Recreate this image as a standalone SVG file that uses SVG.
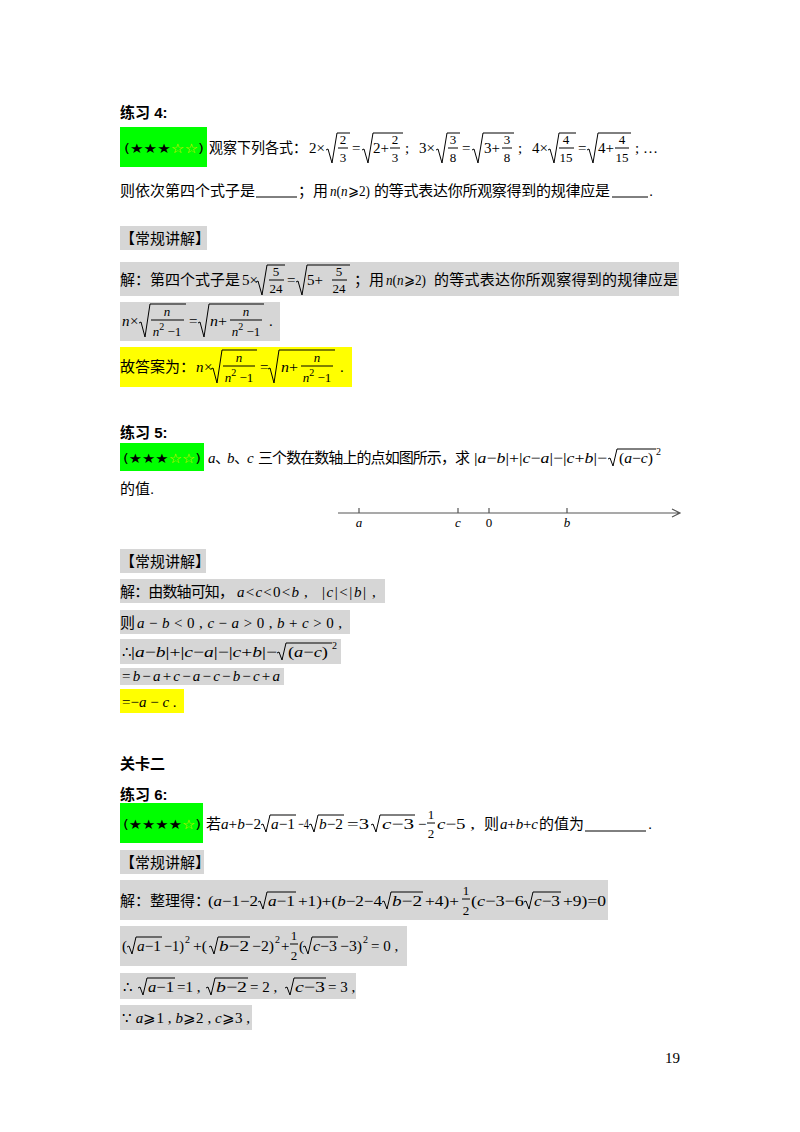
<svg xmlns="http://www.w3.org/2000/svg" width="800" height="1132" viewBox="0 0 800 1132">
<style>
.cn{font-family:"Liberation Sans","Noto Sans CJK SC",sans-serif;font-size:15px;fill:#000}
.b{font-weight:bold}
.m{font-family:"Liberation Serif","DejaVu Serif",serif;font-size:15px;fill:#000}
.i{font-style:italic}
.s{font-size:13px}
.t{font-size:10px}
.r{fill:none;stroke:#000;stroke-width:1}
.g{fill:#d6d6d6}
.gr{fill:#00ff00}
.y{fill:#ffff00}
.st{font-family:"DejaVu Sans","Noto Sans CJK SC",sans-serif;font-size:13px}
.h{fill:#e6e600}
</style>
<rect width="800" height="1132" fill="#fff"/>

<g id="ex4">
<text class="cn b" x="120" y="118">练习 4:</text>
<rect class="gr" x="120" y="127" width="87" height="40"/>
<text class="st" x="124" y="153" textLength="80" lengthAdjust="spacingAndGlyphs">(★★★<tspan class="h">☆☆</tspan>)</text>
<text class="cn" x="209" y="153" textLength="98" lengthAdjust="spacingAndGlyphs">观察下列各式：</text>
<g class="m">
<text x="309" y="153">2×</text>
<path class="r" d="M326,150 l2,-1 l4,14 l5,-30 H350"/>
<text class="s" x="343" y="144" text-anchor="middle">2</text><path class="r" d="M338,148 H348"/><text class="s" x="343" y="162" text-anchor="middle">3</text>
<text x="352" y="153">=</text>
<path class="r" d="M362,150 l2,-1 l4,14 l5,-30 H403"/>
<text x="373" y="153" textLength="16" lengthAdjust="spacingAndGlyphs">2+</text>
<text class="s" x="395" y="144" text-anchor="middle">2</text><path class="r" d="M390,148 H400"/><text class="s" x="395" y="162" text-anchor="middle">3</text>
<text x="405" y="153">;</text>
<text x="419" y="153">3×</text>
<path class="r" d="M436,150 l2,-1 l4,14 l5,-30 H460"/>
<text class="s" x="453" y="144" text-anchor="middle">3</text><path class="r" d="M448,148 H458"/><text class="s" x="453" y="162" text-anchor="middle">8</text>
<text x="462" y="153">=</text>
<path class="r" d="M472,150 l2,-1 l4,14 l5,-30 H514"/>
<text x="484" y="153" textLength="16" lengthAdjust="spacingAndGlyphs">3+</text>
<text class="s" x="507" y="144" text-anchor="middle">3</text><path class="r" d="M502,148 H512"/><text class="s" x="507" y="162" text-anchor="middle">8</text>
<text x="518" y="153">;</text>
<text x="532" y="153">4×</text>
<path class="r" d="M548,150 l2,-1 l4,14 l5,-30 H576"/>
<text class="s" x="566" y="144" text-anchor="middle">4</text><path class="r" d="M559,148 H574"/><text class="s" x="566" y="162" text-anchor="middle">15</text>
<text x="578" y="153">=</text>
<path class="r" d="M587,150 l2,-1 l4,14 l5,-30 H631"/>
<text x="598" y="153" textLength="16" lengthAdjust="spacingAndGlyphs">4+</text>
<text class="s" x="622" y="144" text-anchor="middle">4</text><path class="r" d="M615,148 H629"/><text class="s" x="622" y="162" text-anchor="middle">15</text>
<text x="635" y="153">;  …</text>
</g>
<text class="cn" x="120" y="196">则依次第四个式子是</text>
<path class="r" d="M256,197 H297" stroke-width="0.8"/>
<text class="cn" x="298" y="196">；用</text>
<text class="m" x="330" y="196" textLength="40" lengthAdjust="spacingAndGlyphs"><tspan class="i">n</tspan>(<tspan class="i">n</tspan>⩾2)</text>
<text class="cn" x="374" y="196" textLength="236" lengthAdjust="spacing">的等式表达你所观察得到的规律应是</text>
<path class="r" d="M612,197 H648" stroke-width="0.8"/>
<text class="cn" x="649" y="196">.</text>
</g>

<g id="sol4">
<rect class="g" x="120" y="226" width="87" height="24"/>
<text class="cn" x="120" y="244">【常规讲解】</text>
<rect class="g" x="120" y="262" width="559" height="34"/>
<text class="cn" x="120" y="285">解：第四个式子是</text>
<g class="m">
<text x="242" y="285">5×</text>
<path class="r" d="M256,282 l2,-1 l4,14 l5,-30 H285"/>
<text class="s" x="276" y="276" text-anchor="middle">5</text><path class="r" d="M269,280 H284"/><text class="s" x="276" y="293" text-anchor="middle">24</text>
<text x="287" y="285">=</text>
<path class="r" d="M296,282 l2,-1 l4,14 l5,-30 H350"/>
<text x="307" y="285" textLength="16" lengthAdjust="spacingAndGlyphs">5+</text>
<text class="s" x="339" y="276" text-anchor="middle">5</text><path class="r" d="M332,280 H347"/><text class="s" x="339" y="293" text-anchor="middle">24</text>
</g>
<text class="cn" x="354" y="285">；用</text>
<text class="m" x="386" y="285" textLength="40" lengthAdjust="spacingAndGlyphs"><tspan class="i">n</tspan>(<tspan class="i">n</tspan>⩾2)</text>
<text class="cn" x="434" y="285" textLength="244" lengthAdjust="spacing">的等式表达你所观察得到的规律应是</text>

<rect class="g" x="120" y="302" width="160" height="39"/>
<g class="m">
<text class="i" x="122" y="326">n</text><text x="130" y="326">×</text>
<path class="r" d="M139,323 l2,-1 l4,15 l5,-33 H186"/>
<text class="s i" x="167" y="316" text-anchor="middle">n</text><path class="r" d="M151,320 H184"/>
<text class="s" x="167" y="336" text-anchor="middle"><tspan class="i">n</tspan><tspan class="t" dy="-6">2</tspan><tspan dy="6"> −1</tspan></text>
<text x="189" y="326">=</text>
<path class="r" d="M198,323 l2,-1 l4,15 l5,-33 H264"/>
<text x="210" y="326" textLength="17" lengthAdjust="spacingAndGlyphs"><tspan class="i">n</tspan>+</text>
<text class="s i" x="246" y="316" text-anchor="middle">n</text><path class="r" d="M230,320 H262"/>
<text class="s" x="246" y="336" text-anchor="middle"><tspan class="i">n</tspan><tspan class="t" dy="-6">2</tspan><tspan dy="6"> −1</tspan></text>
<text x="269" y="326">.</text>
</g>

<rect class="y" x="120" y="347" width="232" height="40"/>
<text class="cn" x="120" y="372">故答案为：</text>
<g class="m">
<text class="i" x="196" y="372">n</text><text x="204" y="372">×</text>
<path class="r" d="M211,369 l2,-1 l4,15 l5,-33 H257"/>
<text class="s i" x="239" y="362" text-anchor="middle">n</text><path class="r" d="M223,366 H255"/>
<text class="s" x="239" y="382" text-anchor="middle"><tspan class="i">n</tspan><tspan class="t" dy="-6">2</tspan><tspan dy="6"> −1</tspan></text>
<text x="260" y="372">=</text>
<path class="r" d="M268,369 l2,-1 l4,15 l5,-33 H335"/>
<text x="281" y="372" textLength="17" lengthAdjust="spacingAndGlyphs"><tspan class="i">n</tspan>+</text>
<text class="s i" x="317" y="362" text-anchor="middle">n</text><path class="r" d="M301,366 H333"/>
<text class="s" x="317" y="382" text-anchor="middle"><tspan class="i">n</tspan><tspan class="t" dy="-6">2</tspan><tspan dy="6"> −1</tspan></text>
<text x="340" y="372">.</text>
</g>
</g>

<g id="ex5">
<text class="cn b" x="120" y="438">练习 5:</text>
<rect class="gr" x="120" y="443" width="84" height="28"/>
<text class="st" x="123" y="463" textLength="78" lengthAdjust="spacingAndGlyphs">(★★★<tspan class="h">☆☆</tspan>)</text>
<text class="m i" x="208" y="463">a</text><text class="cn" x="215" y="463">、</text>
<text class="m i" x="227" y="463">b</text><text class="cn" x="234" y="463">、</text>
<text class="m i" x="247" y="463">c</text>
<text class="cn" x="258" y="463" textLength="212" lengthAdjust="spacing">三个数在数轴上的点如图所示，求</text>
<text class="m" x="474" y="463" textLength="133" lengthAdjust="spacingAndGlyphs">|<tspan class="i">a</tspan>−<tspan class="i">b</tspan>|+|<tspan class="i">c</tspan>−<tspan class="i">a</tspan>|−|<tspan class="i">c</tspan>+<tspan class="i">b</tspan>|−</text>
<path class="r" d="M608,459 l2,-1 l3,8 l4,-17 H656"/>
<text class="m" x="619" y="463" textLength="34" lengthAdjust="spacingAndGlyphs">(<tspan class="i">a</tspan>−<tspan class="i">c</tspan>)</text>
<text class="m t" x="656" y="455">2</text>
<text class="cn" x="120" y="494">的值.</text>
<g id="axis">
<path d="M338,513 H680 M672,509 L680,513 L672,517 M359,513 v-5 M458,513 v-5 M489,513 v-5 M567,513 v-5" fill="none" stroke="#555" stroke-width="1.2"/>
<text class="m i s" x="359" y="527" text-anchor="middle" fill="#444">a</text>
<text class="m i s" x="458" y="527" text-anchor="middle" fill="#444">c</text>
<text class="m s" x="489" y="527" text-anchor="middle" fill="#444">0</text>
<text class="m i s" x="567" y="527" text-anchor="middle" fill="#444">b</text>
</g>
</g>

<g id="sol5">
<rect class="g" x="120" y="549" width="86" height="24"/>
<text class="cn" x="120" y="567">【常规讲解】</text>
<rect class="g" x="120" y="579" width="265" height="24"/>
<text class="cn" x="120" y="597" textLength="114" lengthAdjust="spacing">解：由数轴可知，</text>
<text class="m" x="237" y="597" textLength="62" lengthAdjust="spacing"><tspan class="i">a</tspan> &lt; <tspan class="i">c</tspan> &lt; 0 &lt; <tspan class="i">b</tspan></text>
<text class="m" x="304" y="597">,</text>
<text class="m" x="322" y="597" font-size="17" textLength="44" lengthAdjust="spacing">|<tspan class="i">c</tspan>|&lt;|<tspan class="i">b</tspan>|</text>
<text class="m" x="372" y="597">,</text>
<rect class="g" x="120" y="610" width="230" height="24"/>
<text class="cn" x="120" y="628">则</text>
<text class="m" x="137" y="628" textLength="205" lengthAdjust="spacing"><tspan class="i">a</tspan> − <tspan class="i">b</tspan> &lt; 0 ,  <tspan class="i">c</tspan> − <tspan class="i">a</tspan> &gt; 0 ,  <tspan class="i">b</tspan> + <tspan class="i">c</tspan> &gt; 0 ,</text>
<rect class="g" x="120" y="639" width="221" height="25"/>
<text class="m" x="122" y="657">∴</text>
<text class="m" x="131" y="657" textLength="146" lengthAdjust="spacingAndGlyphs">|<tspan class="i">a</tspan>−<tspan class="i">b</tspan>|+|<tspan class="i">c</tspan>−<tspan class="i">a</tspan>|−|<tspan class="i">c</tspan>+<tspan class="i">b</tspan>|−</text>
<path class="r" d="M277,653 l2,-1 l3,8 l4,-17 H332"/>
<text class="m" x="288" y="657" textLength="40" lengthAdjust="spacingAndGlyphs">(<tspan class="i">a</tspan>−<tspan class="i">c</tspan>)</text>
<text class="m t" x="332" y="649">2</text>
<rect class="g" x="120" y="668" width="164" height="17"/>
<text class="m" x="122" y="681" textLength="158" lengthAdjust="spacing">= <tspan class="i">b</tspan> − <tspan class="i">a</tspan> + <tspan class="i">c</tspan> − <tspan class="i">a</tspan> − <tspan class="i">c</tspan> − <tspan class="i">b</tspan> − <tspan class="i">c</tspan> + <tspan class="i">a</tspan></text>
<rect class="y" x="120" y="689" width="64" height="24"/>
<text class="m" x="122" y="707" font-size="16">=−<tspan class="i">a</tspan> − <tspan class="i">c</tspan> .</text>
</g>

<text class="cn b" x="120" y="769" font-size="18">关卡二</text>

<g id="ex6">
<text class="cn b" x="120" y="800">练习 6:</text>
<rect class="gr" x="120" y="803" width="83" height="40"/>
<text class="st" x="123" y="829" textLength="78" lengthAdjust="spacingAndGlyphs">(★★★★<tspan class="h">☆</tspan>)</text>
<text class="cn" x="206" y="829">若</text>
<g class="m">
<text x="221" y="829" textLength="40" lengthAdjust="spacingAndGlyphs"><tspan class="i">a</tspan>+<tspan class="i">b</tspan>−2</text>
<path class="r" d="M261,825 l2,-1 l3,8 l4,-17 H296"/>
<text x="271" y="829" textLength="24" lengthAdjust="spacingAndGlyphs"><tspan class="i">a</tspan>−1</text>
<text x="298" y="829" textLength="11" lengthAdjust="spacingAndGlyphs">−4</text>
<path class="r" d="M309,825 l2,-1 l3,8 l4,-17 H344"/>
<text x="319" y="829" textLength="24" lengthAdjust="spacingAndGlyphs"><tspan class="i">b</tspan>−2</text>
<text x="347" y="829" textLength="22" lengthAdjust="spacingAndGlyphs">=3</text>
<path class="r" d="M371,825 l2,-1 l3,8 l4,-17 H415"/>
<text x="382" y="829" textLength="32" lengthAdjust="spacingAndGlyphs"><tspan class="i">c</tspan>−3</text>
<text x="418" y="829">−</text>
<text class="s" x="431" y="819" text-anchor="middle">1</text><path class="r" d="M427,823 H435"/><text class="s" x="431" y="838" text-anchor="middle">2</text>
<text x="437" y="829" textLength="38" lengthAdjust="spacingAndGlyphs"><tspan class="i">c</tspan>−5 ,</text>
</g>
<text class="cn" x="484" y="829">则</text>
<text class="m" x="500" y="829" textLength="38" lengthAdjust="spacing"><tspan class="i">a</tspan> + <tspan class="i">b</tspan> + <tspan class="i">c</tspan></text>
<text class="cn" x="539" y="829">的值为</text>
<path class="r" d="M585,831 H646" stroke-width="0.8"/>
<text class="cn" x="648" y="829">.</text>
</g>

<g id="sol6">
<rect class="g" x="120" y="850" width="84" height="24"/>
<text class="cn" x="120" y="868">【常规讲解】</text>

<rect class="g" x="120" y="880" width="488" height="40"/>
<text class="cn" x="120" y="906">解：整理得：</text>
<g class="m">
<text x="208" y="906" textLength="50" lengthAdjust="spacingAndGlyphs">(<tspan class="i">a</tspan>−1−2</text>
<path class="r" d="M258,902 l2,-1 l3,8 l4,-17 H296"/>
<text x="268" y="906" textLength="27" lengthAdjust="spacingAndGlyphs"><tspan class="i">a</tspan>−1</text>
<text x="298" y="906" textLength="84" lengthAdjust="spacingAndGlyphs">+1)+(<tspan class="i">b</tspan>−2−4</text>
<path class="r" d="M382,902 l2,-1 l3,8 l4,-17 H423"/>
<text x="392" y="906" textLength="30" lengthAdjust="spacingAndGlyphs"><tspan class="i">b</tspan>−2</text>
<text x="425" y="906" textLength="34" lengthAdjust="spacingAndGlyphs">+4)+</text>
<text class="s" x="466" y="895" text-anchor="middle">1</text><path class="r" d="M462,899 H470"/><text class="s" x="466" y="915" text-anchor="middle">2</text>
<text x="471" y="906" textLength="53" lengthAdjust="spacingAndGlyphs">(<tspan class="i">c</tspan>−3−6</text>
<path class="r" d="M524,902 l2,-1 l3,8 l4,-17 H561"/>
<text x="534" y="906" textLength="26" lengthAdjust="spacingAndGlyphs"><tspan class="i">c</tspan>−3</text>
<text x="563" y="906" textLength="43" lengthAdjust="spacingAndGlyphs">+9)=0</text>
</g>

<rect class="g" x="120" y="926" width="287" height="40"/>
<g class="m">
<text x="122" y="951">(</text>
<path class="r" d="M127,947 l2,-1 l3,8 l4,-17 H162"/>
<text x="137" y="951" textLength="24" lengthAdjust="spacingAndGlyphs"><tspan class="i">a</tspan>−1</text>
<text x="164" y="951" textLength="20" lengthAdjust="spacingAndGlyphs">−1)</text><text class="t" x="185" y="943">2</text>
<text x="193" y="951" textLength="14" lengthAdjust="spacingAndGlyphs">+(</text>
<path class="r" d="M209,947 l2,-1 l3,8 l4,-17 H250"/>
<text x="219" y="951" textLength="30" lengthAdjust="spacingAndGlyphs"><tspan class="i">b</tspan>−2</text>
<text x="252" y="951" textLength="22" lengthAdjust="spacingAndGlyphs">−2)</text><text class="t" x="275" y="943">2</text>
<text x="281" y="951">+</text>
<text class="s" x="294" y="940" text-anchor="middle">1</text><path class="r" d="M290,944 H298"/><text class="s" x="294" y="960" text-anchor="middle">2</text>
<text x="299" y="951">(</text>
<path class="r" d="M303,947 l2,-1 l3,8 l4,-17 H338"/>
<text x="313" y="951" textLength="24" lengthAdjust="spacingAndGlyphs"><tspan class="i">c</tspan>−3</text>
<text x="340" y="951" textLength="22" lengthAdjust="spacingAndGlyphs">−3)</text><text class="t" x="363" y="943">2</text>
<text x="371" y="951">= 0 ,</text>
</g>

<rect class="g" x="120" y="973" width="236" height="26"/>
<g class="m">
<text x="123" y="992">∴</text>
<path class="r" d="M138,988 l2,-1 l3,8 l4,-17 H175"/>
<text x="148" y="992" textLength="26" lengthAdjust="spacingAndGlyphs"><tspan class="i">a</tspan>−1</text>
<text x="177" y="992">=1 ,</text>
<path class="r" d="M206,988 l2,-1 l3,8 l4,-17 H248"/>
<text x="216" y="992" textLength="31" lengthAdjust="spacingAndGlyphs"><tspan class="i">b</tspan>−2</text>
<text x="250" y="992">= 2 ,</text>
<path class="r" d="M285,988 l2,-1 l3,8 l4,-17 H326"/>
<text x="295" y="992" textLength="30" lengthAdjust="spacingAndGlyphs"><tspan class="i">c</tspan>−3</text>
<text x="328" y="992">= 3 ,</text>
</g>

<rect class="g" x="120" y="1005" width="132" height="25"/>
<text class="m" x="122" y="1023" textLength="128" lengthAdjust="spacing">∵ <tspan class="i">a</tspan>⩾1 ,  <tspan class="i">b</tspan>⩾2 ,  <tspan class="i">c</tspan>⩾3 ,</text>
</g>

<text class="m" x="680" y="1063" font-size="13" text-anchor="end">19</text>
</svg>
